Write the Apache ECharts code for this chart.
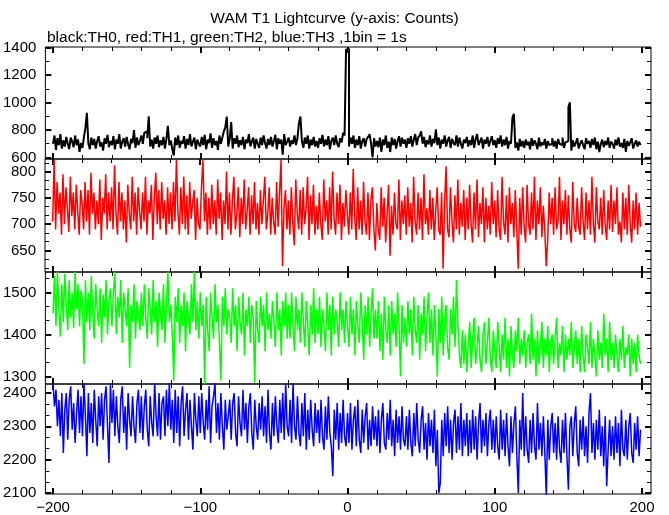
<!DOCTYPE html>
<html><head><meta charset="utf-8">
<script src="https://cdn.jsdelivr.net/npm/echarts@6/dist/echarts.min.js"></script>
<style>html,body{margin:0;padding:0;background:#fff}#c{width:669px;height:515px}</style>
</head><body><div id="c"></div><script>
// Light curves, 1 bin = 1 s, first bin starts at -200 s
const firstBin = -200;
const th0 = [
700,760,655,740,690,770,665,725,680,750,700,660,745,715,675,760,690,730,640,705,
670,750,815,925,700,660,745,690,735,665,720,755,680,710,650,740,700,765,675,720,
690,755,660,730,700,770,665,715,740,680,750,695,660,735,705,800,670,745,690,720,
760,700,780,790,740,900,680,730,665,745,700,760,675,725,690,750,665,735,830,690,
725,660,615,745,690,760,670,720,700,755,665,735,690,770,680,715,745,660,730,700,
680,750,690,765,660,730,705,775,670,740,690,720,655,760,700,745,790,820,898,680,
735,857,665,740,700,760,675,725,690,750,660,730,705,770,680,715,745,665,735,700,
670,745,690,760,705,665,735,690,750,680,720,765,660,740,700,730,620,770,690,715,
745,680,725,700,760,690,740,850,898,720,670,745,700,760,665,730,690,750,680,720,
670,740,700,765,680,730,690,755,660,720,745,690,760,700,675,740,710,780,760,1385,
1392,680,745,700,760,670,730,690,755,665,720,740,680,735,750,770,700,600,740,680,
720,675,745,640,730,690,760,670,715,640,745,690,735,665,720,755,680,745,700,730,
670,740,700,755,680,730,770,690,745,760,790,700,750,675,725,695,760,680,735,705,
805,690,745,665,730,700,760,680,725,750,670,735,705,690,760,680,745,700,665,730,
705,750,680,725,690,760,670,735,770,690,715,745,665,730,700,750,680,720,755,690,
725,670,740,700,760,680,730,690,750,665,720,700,890,918,670,710,650,735,680,720,
670,730,690,715,660,740,685,725,700,660,745,680,710,690,735,665,720,690,700,740,
680,720,665,735,700,690,745,670,710,720,965,1002,650,725,680,705,740,665,700,725,
690,660,740,700,720,670,735,690,745,660,715,640,700,730,675,720,690,745,670,715,
700,665,730,690,745,680,705,670,735,640,720,685,710,740,665,700,725,680,715,690];
const th1 = [
705,822,690,780,720,760,680,795,700,770,730,685,790,715,760,690,775,725,680,765,
740,690,780,705,765,680,798,720,760,690,745,700,785,670,750,720,795,690,760,705,
770,690,812,720,680,780,705,760,690,745,665,775,720,690,790,705,760,680,770,725,
690,760,705,790,680,745,720,775,670,750,798,700,765,690,780,710,745,680,770,700,
760,690,780,705,822,725,680,770,700,790,690,755,680,780,710,740,765,670,750,700,
690,770,822,705,760,680,750,690,775,700,745,680,785,710,760,670,745,700,800,690,
760,680,745,790,690,720,770,675,750,700,785,690,725,770,680,755,700,780,690,740,
680,765,700,745,790,690,720,770,680,750,705,680,780,695,760,822,620,730,765,690,
745,680,770,700,660,785,720,690,765,680,770,700,730,790,670,755,700,775,680,735,
690,760,700,670,785,705,745,680,770,690,800,710,680,760,700,775,670,740,695,765,
720,680,760,690,805,715,670,770,690,745,680,780,705,680,760,670,745,770,690,650,
740,690,670,770,695,750,665,720,775,640,735,680,760,700,690,785,670,745,700,755,
680,770,695,740,665,790,705,680,760,690,750,670,795,700,730,680,765,690,750,670,
725,770,690,680,760,615,740,810,690,675,770,705,665,755,690,785,680,740,695,765,
670,750,690,775,700,665,760,690,785,675,740,700,770,665,750,690,735,680,780,700,
745,675,765,690,670,790,705,680,755,665,770,700,740,675,765,690,615,750,680,770,
695,665,775,700,680,760,690,790,670,745,700,770,675,735,690,620,670,760,700,750,
680,770,690,705,790,670,745,700,765,680,755,690,665,780,700,685,750,695,680,770,
705,670,760,690,745,680,790,700,665,770,705,690,750,680,765,700,670,745,690,775,
685,745,700,770,680,705,665,760,690,750,680,775,700,665,745,690,760,680,740,695];
const th2 = [
1450,1540,1420,1550,1460,1395,1520,1430,1545,1470,1410,1530,1440,1500,1415,1550,1460,1520,1420,1505,
1480,1330,1530,1430,1500,1410,1540,1450,1390,1520,1460,1420,1510,1380,1495,1440,1530,1400,1480,1510,
1420,1500,1550,1400,1490,1440,1530,1380,1500,1460,1420,1510,1320,1470,1430,1520,1390,1480,1450,1410,
1500,1420,1520,1440,1390,1510,1460,1400,1530,1430,1480,1370,1500,1450,1410,1520,1380,1470,1550,1430,
1470,1400,1290,1490,1430,1510,1380,1470,1420,1500,1360,1480,1440,1400,1520,1430,1550,1410,1480,1390,
1500,1420,1470,1282,1490,1410,1360,1500,1440,1390,1520,1430,1470,1380,1290,1490,1420,1510,1400,1460,
1440,1380,1510,1420,1470,1360,1490,1430,1400,1500,1350,1460,1420,1490,1380,1470,1440,1285,1480,1410,
1380,1490,1420,1470,1360,1500,1410,1450,1390,1480,1430,1370,1500,1410,1460,1350,1480,1420,1500,1390,
1470,1390,1500,1420,1360,1490,1410,1460,1380,1500,1430,1370,1480,1420,1350,1470,1400,1510,1380,1460,
1400,1490,1370,1460,1420,1360,1500,1410,1470,1350,1490,1400,1460,1430,1370,1500,1410,1460,1380,1480,
1420,1370,1490,1400,1460,1350,1480,1420,1380,1500,1430,1340,1470,1400,1490,1370,1450,1510,1390,1460,
1390,1480,1360,1450,1340,1490,1410,1380,1470,1350,1480,1400,1450,1370,1500,1420,1300,1470,1380,1440,
1370,1480,1400,1460,1350,1490,1410,1380,1470,1340,1450,1400,1490,1360,1440,1500,1380,1460,1350,1470,
1400,1300,1460,1380,1490,1350,1440,1470,1370,1340,1460,1400,1490,1370,1530,1420,1350,1320,1410,1330,
1400,1310,1380,1430,1320,1390,1440,1330,1370,1420,1340,1310,1400,1430,1330,1380,1440,1340,1310,1410,
1360,1320,1430,1370,1310,1400,1340,1440,1320,1390,1300,1420,1350,1320,1410,1360,1440,1330,1390,1350,
1410,1320,1380,1400,1330,1450,1340,1390,1300,1410,1330,1370,1430,1320,1390,1350,1420,1310,1380,1400,
1330,1390,1440,1320,1380,1350,1420,1310,1400,1340,1390,1350,1430,1320,1370,1410,1330,1390,1310,1420,
1350,1310,1400,1370,1330,1430,1320,1390,1350,1300,1410,1340,1380,1320,1450,1350,1390,1310,1430,1340,
1380,1320,1400,1350,1310,1390,1340,1420,1320,1370,1350,1400,1300,1390,1330,1380,1310,1400,1350,1330];
const th3 = [
2430,2360,2410,2300,2380,2270,2400,2220,2350,2400,2260,2380,2420,2290,2370,2250,2340,2410,2280,2390,
2270,2430,2330,2210,2400,2280,2370,2250,2410,2320,2240,2390,2300,2400,2260,2380,2420,2300,2190,2430,
2310,2410,2270,2390,2300,2250,2380,2420,2280,2360,2230,2400,2320,2270,2390,2300,2250,2370,2410,2280,
2390,2260,2360,2410,2290,2240,2390,2310,2270,2430,2330,2270,2400,2260,2370,2390,2270,2410,2300,2430,
2290,2380,2250,2410,2280,2390,2240,2370,2420,2270,2350,2400,2260,2380,2300,2230,2400,2320,2270,2390,
2280,2400,2310,2260,2380,2290,2420,2250,2360,2390,2430,2280,2370,2260,2400,2300,2230,2380,2290,2330,
2380,2260,2370,2400,2280,2240,2390,2310,2270,2410,2290,2370,2250,2360,2400,2280,2230,2380,2300,2260,
2370,2290,2390,2270,2360,2250,2410,2280,2230,2370,2270,2390,2300,2250,2380,2280,2400,2260,2430,2300,
2270,2380,2250,2430,2300,2260,2390,2280,2240,2370,2270,2400,2230,2350,2260,2380,2290,2240,2370,2280,
2350,2250,2380,2270,2230,2360,2260,2390,2280,2240,2150,2350,2260,2370,2230,2340,2250,2380,2270,2240,
2340,2250,2370,2230,2320,2360,2240,2380,2260,2220,2350,2250,2330,2370,2230,2320,2240,2360,2260,2330,
2240,2350,2220,2320,2370,2250,2230,2340,2260,2380,2240,2320,2210,2350,2250,2330,2230,2360,2260,2240,
2330,2230,2350,2250,2210,2340,2240,2370,2260,2220,2320,2360,2230,2310,2200,2340,2240,2320,2220,2350,
2180,2290,2100,2130,2320,2210,2340,2240,2360,2220,2320,2200,2310,2350,2220,2330,2230,2370,2210,2320,
2240,2340,2210,2320,2220,2350,2230,2330,2200,2310,2370,2220,2320,2240,2340,2210,2310,2350,2230,2320,
2220,2330,2240,2200,2350,2230,2320,2210,2340,2240,2180,2330,2220,2310,2360,2210,2100,2320,2230,2400,
2210,2330,2230,2190,2320,2220,2340,2240,2200,2370,2230,2310,2210,2330,2220,2090,2320,2200,2300,2340,
2220,2310,2200,2330,2230,2190,2320,2220,2340,2210,2110,2300,2330,2210,2310,2360,2220,2180,2320,2230,
2330,2210,2300,2190,2340,2400,2220,2310,2200,2320,2230,2350,2210,2300,2180,2330,2120,2230,2320,2210,
2300,2200,2330,2220,2310,2180,2350,2230,2210,2320,2200,2300,2340,2220,2190,2310,2230,2330,2210,2290];

const seriesNames = ['TH0','TH1','TH2','TH3'];
const xTickLabels = [-200,-100,0,100,200];
const yTickLabels = [
  [600,800,1000,1200,1400],
  [650,700,750,800],
  [1300,1400,1500],
  [2100,2200,2300,2400]
];
const titleText = 'WAM T1 Lightcurve (y-axis: Counts)';
const subText = 'black:TH0, red:TH1, green:TH2, blue:TH3 ,1bin = 1s';

// ---- layout / style ----
const FONT = '"Liberation Sans", Arial, sans-serif';
const colors = ['#000000','#ff0000','#00ff00','#0000ff'];
const widths = [2,1.5,1.5,1.5];
const X_MIN = -205.2, X_MAX = 206.1;
const panels = [
  {top:47,  height:112, min:589,  max:1404, div:2},
  {top:159, height:113, min:609,  max:824,  div:3},
  {top:272, height:112, min:1282, max:1549, div:3},
  {top:384, height:111, min:2097, max:2427, div:3}
];
const allData = [th0, th1, th2, th3];

function minorTicks(major, div, min, max) {
  const step = (major[1]-major[0])/div, out = [];
  for (let v = major[0]; v >= min - 1e-6; v -= step) out.push(+v.toFixed(4));
  for (let v = major[0]+step; v <= max + 1e-6; v += step) out.push(+v.toFixed(4));
  return out.filter(v => v >= min && v <= max);
}
const fmt = v => (v < 0 ? '\u2212' + (-v) : '' + v);

const grids = [], xAxes = [], yAxes = [], series = [];
const xMinor = minorTicks(xTickLabels, 5, X_MIN, X_MAX);

panels.forEach((p, g) => {
  grids.push({left:45, right:18, top:p.top, height:p.height, show:true,
    borderColor:'#000', borderWidth:1, backgroundColor:'transparent'});
  const yMinor = minorTicks(yTickLabels[g], p.div, p.min, p.max);
  const mk = (isX, pos, ticks, len, w, lab) => ({
    type:'value', gridIndex:g, position:pos,
    min: isX ? X_MIN : p.min, max: isX ? X_MAX : p.max,
    axisLine:{show:false, onZero:false}, splitLine:{show:false},
    axisTick:{show:true, inside:true, length:len, lineStyle:{color:'#000', width:w}, customValues:ticks},
    axisLabel:{show:lab, customValues: isX ? xTickLabels : yTickLabels[g], formatter:fmt,
      color:'#000', fontSize:15, fontFamily:FONT, margin: isX ? 6 : 9}
  });
  xAxes.push(mk(true,'bottom',xTickLabels,6,2,g===3));
  xAxes.push(mk(true,'bottom',xMinor,4,1,false));
  xAxes.push(mk(true,'top',xTickLabels,6,2,false));
  xAxes.push(mk(true,'top',xMinor,4,1,false));
  yAxes.push(mk(false,'left',yTickLabels[g],6,2,true));
  yAxes.push(mk(false,'left',yMinor,4,1,false));
  yAxes.push(mk(false,'right',yTickLabels[g],6,2,false));
  yAxes.push(mk(false,'right',yMinor,4,1,false));
  series.push({
    name: seriesNames[g], type:'line', step:'end', xAxisIndex:g*4, yAxisIndex:g*4,
    symbol:'none', silent:true, clip:true,
    lineStyle:{color:colors[g], width:widths[g]},
    data: allData[g].map((v,i) => [firstBin + i, v])
  });
});

const chart = echarts.init(document.getElementById('c'), null, {renderer:'canvas'});
chart.setOption({
  animation:false,
  backgroundColor:'#fff',
  title:[
    {text:titleText, left:'center', top:6, textStyle:{fontSize:15.5, fontWeight:'normal', color:'#000', fontFamily:FONT}},
    {text:subText, left:42, top:25, textStyle:{fontSize:15.5, fontWeight:'normal', color:'#000', fontFamily:FONT}}
  ],
  grid:grids, xAxis:xAxes, yAxis:yAxes, series:series
});
</script></body></html>
